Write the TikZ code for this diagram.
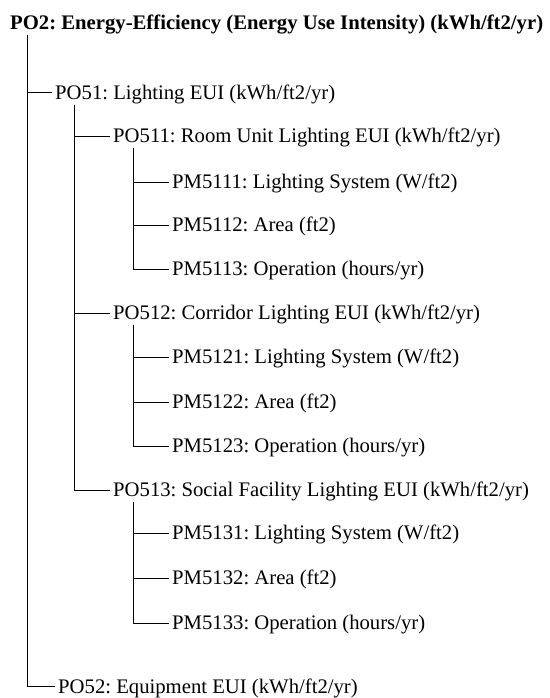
\documentclass[tikz,border=0pt]{standalone}
\usepackage{fontspec}
\setmainfont{Liberation Serif}
\usepackage{tikz}
\usepackage{xcolor}
\frenchspacing

\begin{document}
\begin{tikzpicture}[x=1pt,y=-1pt,
  item/.style={anchor=west,inner xsep=3pt,inner ysep=0pt,text height=18.2pt,text depth=4.6pt,font=\fontsize{20.7}{24}\selectfont},
  rootitem/.style={item,font=\fontsize{20.7}{24}\selectfont\bfseries},
  branch/.style={line width=1pt,black}]
\useasboundingbox (0,0) rectangle (549,698);
\node[rootitem] (po2) at (7,23) {PO2: Energy-Efficiency (Energy Use Intensity) (kWh/ft2/yr)};
\node[item] (po51) at (52,93) {PO51: Lighting EUI (kWh/ft2/yr)};
\node[item] (po511) at (110,136) {PO511: Room Unit Lighting EUI (kWh/ft2/yr)};
\node[item] (pm5111) at (169,182) {PM5111: Lighting System (W/ft2)};
\node[item] (pm5112) at (169,225) {PM5112: Area (ft2)};
\node[item] (pm5113) at (169,269) {PM5113: Operation (hours/yr)};
\node[item] (po512) at (110,313) {PO512: Corridor Lighting EUI (kWh/ft2/yr)};
\node[item] (pm5121) at (169,357) {PM5121: Lighting System (W/ft2)};
\node[item] (pm5122) at (169,402) {PM5122: Area (ft2)};
\node[item] (pm5123) at (169,446) {PM5123: Operation (hours/yr)};
\node[item] (po513) at (110,490) {PO513: Social Facility Lighting EUI (kWh/ft2/yr)};
\node[item] (pm5131) at (169,533) {PM5131: Lighting System (W/ft2)};
\node[item] (pm5132) at (169,578) {PM5132: Area (ft2)};
\node[item] (pm5133) at (169,623) {PM5133: Operation (hours/yr)};
\node[item] (po52) at (55,686.5) {PO52: Equipment EUI (kWh/ft2/yr)};
\draw[branch] ([xshift=20pt]po2.south west) |- (po51.west);
\draw[branch] ([xshift=20pt]po2.south west) |- (po52.west);
\draw[branch] ([xshift=22pt]po51.south west) |- (po511.west);
\draw[branch] ([xshift=22pt]po51.south west) |- (po512.west);
\draw[branch] ([xshift=22pt]po51.south west) |- (po513.west);
\draw[branch] ([xshift=23pt]po511.south west) |- (pm5111.west);
\draw[branch] ([xshift=23pt]po511.south west) |- (pm5112.west);
\draw[branch] ([xshift=23pt]po511.south west) |- (pm5113.west);
\draw[branch] ([xshift=23pt]po512.south west) |- (pm5121.west);
\draw[branch] ([xshift=23pt]po512.south west) |- (pm5122.west);
\draw[branch] ([xshift=23pt]po512.south west) |- (pm5123.west);
\draw[branch] ([xshift=23pt]po513.south west) |- (pm5131.west);
\draw[branch] ([xshift=23pt]po513.south west) |- (pm5132.west);
\draw[branch] ([xshift=23pt]po513.south west) |- (pm5133.west);
\end{tikzpicture}
\end{document}
